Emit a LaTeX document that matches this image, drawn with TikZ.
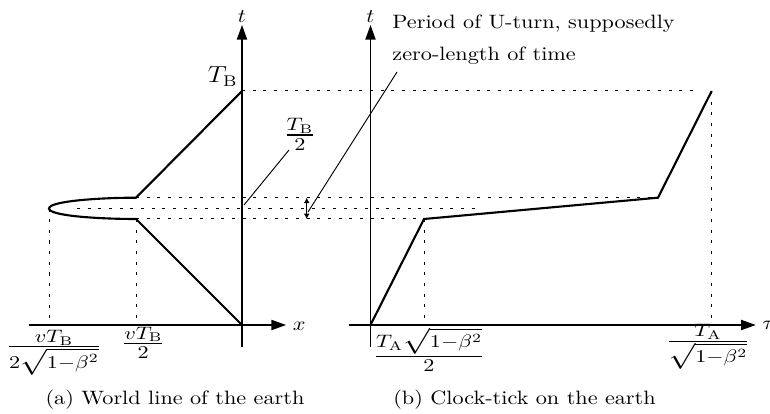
\documentclass[tikz,border=0pt]{standalone}
\usepackage{amsmath}
\usepackage{graphicx}
\usetikzlibrary{arrows.meta}
\newcommand\sq[1]{\scalebox{1}[0.87]{#1}}
\newcommand\fr[2]{\scalebox{1}[0.81]{\Large$\frac{#1}{#2}$}}
\begin{document}
\begin{tikzpicture}[x=0.45pt,y=-0.45pt,
  lbl/.style={inner sep=0pt},
  axis/.style={line width=0.6pt,-{Triangle[length=6.6pt,width=4.6pt]}},
  world/.style={line width=0.95pt,line join=miter},
  guide/.style={line width=0.45pt,dash pattern=on 1.4pt off 3.4pt},
  leader/.style={line width=0.42pt},
  tinyarrow/.style={{Latex[length=2.4pt,width=2.6pt]}-{Latex[length=2.4pt,width=2.6pt]}}]
\useasboundingbox (0,0) rectangle (770,414);
% key points
\coordinate (O1) at (242,325);
\coordinate (TB) at (242,91);
\coordinate (U1) at (136,197.7);
\coordinate (U2) at (136,219);
\coordinate (Tip) at (49,208.5);
\coordinate (O2) at (370.5,325);
\coordinate (K1) at (424,219);
\coordinate (K2) at (658,197.7);
\coordinate (TA) at (711.7,91);
\coordinate (M1) at (77,208.5);
\coordinate (M2) at (477,208.5);
% axes ends
\coordinate (xs) at (29,325);
\coordinate (xe) at (286,325);
\coordinate (ts1) at (242,347);
\coordinate (te1) at (242,25);
\coordinate (ts2) at (370.5,347);
\coordinate (te2) at (370.5,25);
\coordinate (taus) at (349,325);
\coordinate (taue) at (755.7,325);
% guides
\draw[guide,shorten >=5pt] (TB) -- (TA);
\draw[guide] (U1) -- (K2);
\draw[guide] (M1) -- (M2);
\draw[guide] (U2) -- (K1);
\draw[guide] (Tip) -- (Tip |- O1);
\draw[guide] (U2) -- (U2 |- O1);
\draw[guide] (K1) -- (K1 |- O2);
\draw[guide] (TA) -- (TA |- O2);
% axes
\draw[axis] (xs) -- (xe);
\draw[axis] (ts1) -- (te1);
\draw[axis] (ts2) -- (te2);
\draw[axis] (taus) -- (taue);
% world lines
\draw[world] (O1) -- (U2) .. controls (100,219) and (49,216) .. (Tip)
  .. controls (49,201) and (100,197.7) .. (U1) -- (TB);
\draw[world] (O2) -- (K1) -- (K2) -- (TA);
% axis labels
\node[lbl,anchor=base] (t1) at (242,23) {\sq{$t$}};
\node[lbl,anchor=base] (t2) at (370.5,23) {\sq{$t$}};
\node[lbl,anchor=base west] (xl) at (292.5,330) {\sq{$x$}};
\node[lbl,anchor=base west] (taul) at (762,329) {\sq{$\tau$}};
\node[lbl,anchor=base east] (tbl) at (238,83) {\sq{\large$T_{\mathrm{B}}$}};
% T_B/2 label and leader
\node[lbl,anchor=base] (tb2) at (300,141.5) {\fr{T_{\mathrm{B}}}{2}};
\coordinate (L1a) at (289,150);
\coordinate (L1b) at (244,205);
\draw[leader] (L1a) -- (L1b);
% U-turn note
\node[lbl,anchor=base west] (p1) at (392,28.5) {\sq{Period of U-turn, supposedly}};
\node[lbl,anchor=base west] (p2) at (392,61) {\sq{zero-length of time}};
\coordinate (L2a) at (397,72);
\coordinate (L2b) at (308,212);
\draw[leader] (L2a) -- (L2b);
\coordinate (D1) at (306.7,197.7);
\coordinate (D2) at (306.7,219);
\draw[leader,tinyarrow] (D1) -- (D2);
% tick labels
\node[lbl,anchor=base] (f1) at (54,353.2) {\fr{vT_{\mathrm{B}}}{2\sqrt{1-\beta^2}}};
\node[lbl,anchor=base] (f2) at (143.3,349.8) {\fr{vT_{\mathrm{B}}}{2}};
\node[lbl,anchor=base] (f3) at (429,362.5) {\fr{T_{\mathrm{A}}\sqrt{1-\beta^2}}{2}};
\node[lbl,anchor=base] (f4) at (708,347.5) {\fr{T_{\mathrm{A}}}{\sqrt{1-\beta^2}}};
% captions
\node[lbl,anchor=base] (capa) at (175,404) {\sq{(a) World line of the earth}};
\node[lbl,anchor=base] (capb) at (524.5,404) {\sq{(b) Clock-tick on the earth}};
\end{tikzpicture}
\end{document}
